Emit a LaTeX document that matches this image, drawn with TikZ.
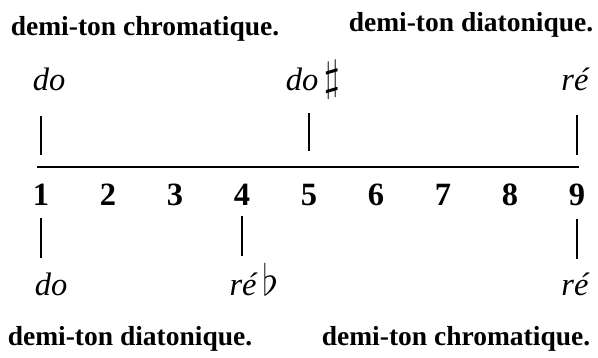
\documentclass[tikz,border=0pt]{standalone}
\usepackage{amssymb}
\usepackage{fontspec}
\setmainfont{Liberation Serif}
\usetikzlibrary{positioning}

\newcommand{\grandsigne}[1]{{\fontsize{16}{18}\selectfont$#1$}}

\begin{document}
\begin{tikzpicture}[
    x=0.4pt, y=-0.4pt,
    titre/.style={font=\bfseries\fontsize{11}{13}\selectfont, anchor=base, inner sep=0pt},
    note/.style={font=\itshape\fontsize{13}{15}\selectfont, anchor=base, inner sep=0pt},
    num/.style={font=\bfseries\fontsize{13}{15}\selectfont, anchor=base, inner sep=0pt},
    trait/.style={line width=0.8pt},
    axe/.style={line width=1pt}
]
\useasboundingbox (0,0) rectangle (598,358);

% titres du haut
\node[titre] (chromH) at (145,36) {demi-ton chromatique.};
\node[titre] (diatH) at (471,32) {demi-ton diatonique.};

% notes du haut
\node[note] (doH) at (49,91) {do};
\node[note] (dodiese) at (313,91) {do\,\grandsigne{\sharp}};
\node[note] (reH) at (575,91) {ré};

% la ligne et les numeros
\coordinate (gauche) at (37,167);
\coordinate (droite) at (579,167);
\draw[axe] (gauche) -- (droite);
\foreach \i in {1,...,9}
    \node[num] (n\i) at ({41+67*(\i-1)},206) {\i};

% traits du haut
\foreach \i/\ya/\yb in {1/116/155, 5/113/151, 9/115/155} {
    \coordinate (ha\i) at (n\i |- 0,\ya);
    \coordinate (hb\i) at (n\i |- 0,\yb);
    \draw[trait] (ha\i) -- (hb\i);
}
% traits du bas
\foreach \i/\ya/\yb in {1/218/258, 4/216/256, 9/219/259} {
    \coordinate (ba\i) at (n\i |- 0,\ya);
    \coordinate (bb\i) at (n\i |- 0,\yb);
    \draw[trait] (ba\i) -- (bb\i);
}

% notes du bas
\node[note] (doB) at (51,296) {do};
\node[note] (rebemol) at (254,296) {ré\,\grandsigne{\flat}};
\node[note] (reB) at (575,296) {ré};

% titres du bas
\node[titre] (diatB) at (130,345) {demi-ton diatonique.};
\node[titre] (chromB) at (456,345) {demi-ton chromatique.};

\end{tikzpicture}
\end{document}
